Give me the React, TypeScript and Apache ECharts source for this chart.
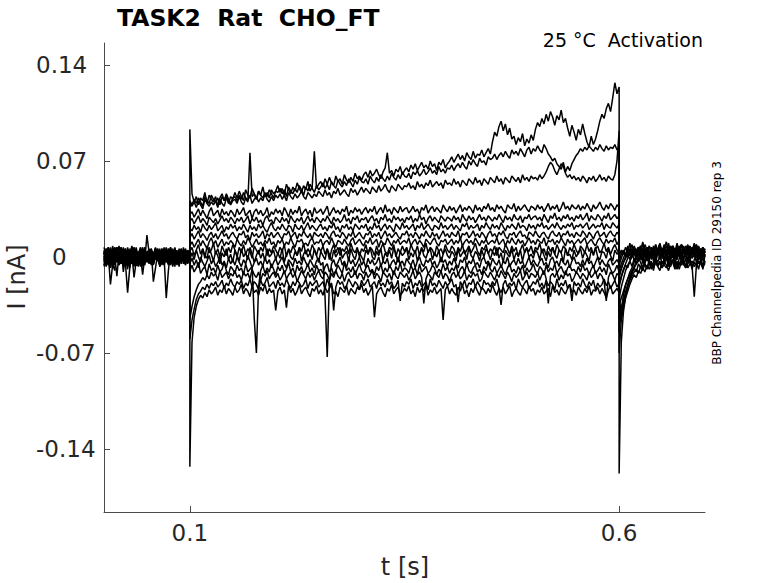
import React, { useEffect, useRef } from "react";
import * as echarts from "echarts";

// Time segments of the protocol [start, end] in s: holding, test pulse, return to holding
const SEGMENTS: [number, number][] = [
  [0, 0.1],
  [0.1, 0.6],
  [0.6, 0.7],
];

const X_TICKS = [0.1, 0.6];
const Y_TICKS = [-0.14, -0.07, 0, 0.07, 0.14];

const TITLE = "TASK2  Rat  CHO_FT";
const SUBTITLE = "25 °C  Activation";
const SIDE_NOTE = "BBP Channelpedia ID 29150 rep 3";
const X_NAME = "t [s]";
const Y_NAME = "I [nA]";

// Currents in pA, sampled every 2.5 ms in each segment
const PRE_1 = [3,-5,6,0,-7,4,2,-3,7,-1,5,-6,2,8,-3,1,-4,6,-1,-2,3,5,-4,1,7,-2,-6,3,0,4,-5,2,6,-3,1,-7,5,0,-2,4,1];
const STEP_1 = [93,
  46,40,44,38,43,41,47,39,45,42,40,44,37,43,46,41,45,39,44,42,
  47,43,48,44,41,49,45,43,50,46,42,48,45,51,44,47,43,49,46,48,
  52,47,50,45,53,49,46,51,48,54,50,47,52,49,55,48,51,77,50,53,
  55,51,57,53,58,54,52,59,55,57,53,60,56,54,58,55,61,57,59,56,
  60,62,58,63,59,61,64,60,57,62,65,76,61,63,59,64,62,66,60,63,
  65,62,67,64,68,63,66,69,65,67,64,70,66,68,63,69,67,71,65,68,
  70,73,69,72,75,71,74,70,76,73,71,77,72,75,74,78,73,76,79,75,
  84,91,88,95,99,92,97,89,94,86,
  88,82,87,84,90,81,86,83,89,85,
  93,98,95,101,97,104,99,106,102,96,103,100,107,98,101,
  94,88,96,91,85,93,89,97,90,
  84,80,88,82,86,92,
  99,104,101,108,112,106,
  116,127,119,124];
const TAIL_1 = [-158,-62,-40,-29,-22,-16,-12,-8,-5,-3,2,-4,3,0,-2,5,1,-3,4,0,6,-1,3,-4,2,5,0,-2,4,1,-3,6,2,-1,3,0,5,-2,1,4,0];

const PRE_2 = [-2,6,-3,4,-8,1,7,-4,3,0,-6,5,-1,7,2,-5,1,-7,4,0,-3,2,6,-5,3,-1,5,-4,0,7,-2,4,-6,1,3,-3,6,-1,2,-5,0];
const STEP_2 = [41,
  38,42,39,43,40,37,44,41,39,45,42,40,43,38,44,41,46,42,39,43,
  44,41,45,42,47,43,40,76,44,46,42,48,45,43,47,44,49,46,43,48,
  47,50,46,49,44,51,48,46,50,47,52,49,45,51,48,53,50,47,52,49,
  51,54,50,53,49,55,52,50,56,53,51,55,52,57,54,51,56,53,58,55,
  54,57,53,59,56,54,58,55,60,57,55,59,56,61,58,56,60,57,62,59,
  58,61,57,62,60,63,59,61,64,60,62,65,61,63,60,66,62,64,61,65,
  64,67,63,66,68,65,69,66,64,70,67,71,68,66,72,69,70,67,73,71,
  72,75,71,74,76,73,77,74,72,78,75,77,74,79,76,73,78,80,75,79,
  77,81,78,76,82,79,75,73,70,72,68,66,64,69,62,66,63,68,71,74,
  76,79,77,80,78,81,79,77,80,78,82,79,77,81,78,80,79,82,78,80];
const TAIL_2 = [-70,-46,-34,-26,-20,-15,-11,-7,-4,-1,3,-3,5,1,-2,6,0,-4,3,7,-1,2,5,-3,1,4,-2,6,0,3,-1,5,2,-3,4,1,6,-2,3,0,2];

const PRE_3 = [4,0,-6,7,1,-3,5,-2,4,0,-5,-26,-8,2,-3,5,-6,3,-1,4,1,-4,6,0,-2,5,-7,3,1,-3,6,-1,4,-5,2,0,-4,7,-2,3,-1];
const STEP_3 = [39,
  37,40,36,41,38,35,42,39,37,40,38,41,36,42,39,37,43,40,38,41,
  42,39,44,40,38,43,41,45,39,42,44,40,43,41,46,42,40,44,41,45,
  43,46,42,45,41,47,44,42,46,43,45,48,44,42,47,45,43,46,44,48,
  46,44,49,45,47,43,48,46,50,45,47,49,46,44,50,47,49,45,48,51,
  47,50,48,46,51,49,47,52,48,50,53,49,47,52,50,48,53,51,49,52,
  51,54,50,52,49,55,51,53,50,54,52,56,51,53,55,52,54,50,56,53,
  54,52,57,53,55,51,56,54,52,57,55,53,58,54,56,52,57,55,53,58,
  56,54,59,55,57,53,58,56,54,59,57,55,58,54,60,56,58,55,59,57,
  58,56,60,57,59,62,66,69,67,63,60,64,68,66,61,58,60,57,59,56,
  58,55,59,57,54,58,56,59,55,57,60,56,58,55,59,57,56,60,70,92];
const TAIL_3 = [-55,-38,-28,-21,-16,-11,-8,-4,-1,2,-2,5,1,-3,4,0,6,-1,3,7,1,-2,5,2,-1,4,0,6,3,-2,5,1,-1,4,2,7,0,3,-2,5,1];

const PRE_4 = [-6,3,7,-2,4,-5,0,8,-3,1,6,-7,0,4,-2,7,-3,1,5,-4,0,3,-6,2,5,-1,4,-3,7,0,-5,2,-2,6,1,-4,3,-1,5,-3,2];
const STEP_4 = [31,
  33,29,32,35,30,34,31,28,33,36,30,32,34,29,35,31,33,30,34,32,
  29,35,31,33,36,30,32,34,28,33,35,31,34,30,32,36,29,33,31,35,
  32,34,30,36,33,29,35,31,34,32,37,30,33,35,31,34,29,36,32,33,
  35,31,34,37,30,33,36,32,34,31,35,33,37,30,34,32,36,33,35,31,
  34,36,32,35,33,37,31,34,36,32,38,33,35,31,36,34,32,37,33,35,
  36,32,34,37,33,35,31,36,34,38,32,35,37,33,36,34,32,38,35,33,
  37,34,36,32,35,38,33,36,34,37,35,32,38,34,36,33,37,35,39,34,
  36,33,38,35,37,34,32,38,36,35,39,33,37,34,36,38,35,33,37,36,
  34,38,35,37,33,36,39,34,37,35,38,33,36,40,35,37,34,38,36,35,
  38,34,37,35,39,36,33,38,35,37,40,36,34,38,35,39,37,34,38,36];
const TAIL_4 = [-30,-22,-16,-10,-6,-3,0,3,-2,5,1,-1,6,2,4,-2,7,1,3,5,0,6,2,-1,4,8,1,3,5,0,6,2,4,-1,5,3,7,1,4,2,5];

const PRE_5 = [1,-7,3,6,-3,0,4,-5,7,-2,3,-1,-6,2,-15,-3,4,-1,-6,3,-2,5,0,-4,6,1,-3,4,-6,2,-1,7,-4,0,3,-2,5,-5,1,4,-3];
const STEP_5 = [26,
  28,24,27,30,25,28,26,23,29,27,25,28,24,27,30,26,28,25,29,27,
  24,28,26,29,25,27,30,24,28,26,29,25,27,23,28,30,26,27,24,29,
  27,25,29,26,28,24,30,27,25,28,26,29,24,27,30,26,28,25,29,27,
  25,28,26,30,27,24,29,26,28,25,27,31,26,28,24,29,27,30,25,28,
  27,29,25,28,30,26,28,24,29,27,31,26,28,25,30,27,29,26,28,25,
  29,27,30,25,28,26,31,27,29,24,28,30,26,29,27,25,30,28,26,29,
  28,26,30,27,29,25,31,28,26,30,27,29,25,28,31,27,29,26,30,28,
  26,29,27,31,28,25,30,27,29,26,31,28,27,30,25,29,28,31,27,29,
  30,27,29,26,31,28,25,30,28,32,27,29,26,30,28,31,27,29,26,30,
  28,31,27,29,32,26,30,28,27,31,29,26,30,28,32,27,29,31,28,30];
const TAIL_5 = [-22,-15,-9,-5,-1,3,0,5,2,7,-1,4,6,1,8,3,0,5,2,6,4,9,1,3,7,2,5,0,6,3,8,4,1,6,3,5,9,2,4,7,3];

const PRE_6 = [7,1,-4,0,5,-3,3,-6,1,4,2,-2,6,-4,0,3,-7,4,1,-3,16,3,-5,2,6,-2,0,4,-3,5,1,-6,3,0,-2,6,-4,2,-1,5,0];
const STEP_6 = [21,
  19,23,20,22,18,24,21,19,23,20,22,25,19,21,23,18,22,20,24,21,
  23,19,22,20,24,21,18,23,20,22,19,24,21,23,20,18,22,25,21,19,
  22,20,24,21,19,23,22,18,24,21,20,23,19,22,25,20,23,21,19,22,
  24,20,22,19,23,21,25,20,22,18,23,21,24,20,22,19,24,22,20,23,
  21,24,19,22,20,25,21,23,19,22,24,20,23,21,18,24,22,20,25,21,
  23,20,22,24,19,23,21,25,20,22,24,21,19,23,22,20,25,21,23,20,
  22,24,20,23,21,19,24,22,25,20,23,21,22,24,19,23,21,25,22,20,
  24,21,23,20,25,22,19,23,21,24,22,20,25,21,23,22,19,24,21,23,
  20,24,22,25,21,23,20,22,24,21,25,22,20,23,21,24,22,25,20,23,
  22,24,21,23,25,20,22,24,21,23,22,25,20,24,22,21,25,23,21,24];
const TAIL_6 = [-15,-9,-4,0,4,1,6,3,-1,5,8,2,4,7,1,6,3,9,2,5,0,7,4,2,8,5,1,6,3,9,4,2,7,5,1,6,8,3,5,2,6];

const PRE_7 = [-3,4,2,-20,-6,7,-1,3,0,-7,4,1,-3,6,-5,0,2,7,-2,4,-4,1,5,-3,0,6,-2,3,-6,1,4,-1,5,-4,2,0,-5,3,6,-2,1];
const STEP_7 = [14,
  17,13,16,19,14,17,15,12,16,18,14,17,13,16,19,15,17,13,16,18,
  15,13,17,16,19,14,16,12,18,15,17,14,16,19,13,17,15,18,14,16,
  18,15,13,17,16,19,14,16,18,13,17,15,19,16,14,17,13,18,16,15,
  17,14,18,16,13,17,19,15,16,14,18,16,13,17,15,19,14,16,18,15,
  13,17,16,19,14,17,15,18,13,16,19,15,17,14,16,18,15,13,17,16,
  19,15,17,14,18,16,13,17,15,19,16,14,18,15,17,13,16,19,15,17,
  14,18,16,15,19,13,17,16,18,14,16,19,15,17,14,18,16,13,17,19,
  15,17,14,18,16,19,15,13,17,16,18,14,17,19,15,16,13,18,17,15,
  19,16,14,17,18,15,13,17,19,16,15,18,14,17,16,19,15,17,14,18,
  16,15,19,17,14,18,16,13,17,19,15,16,18,14,17,19,16,15,18,16];
const TAIL_7 = [-10,-5,-1,3,0,6,2,8,4,1,6,3,9,5,2,7,4,0,6,10,3,5,1,7,4,8,2,6,3,9,5,1,7,4,2,8,5,3,6,1,4];

const PRE_8 = [0,4,-3,-8,3,6,-2,1,-5,7,-3,5,1,-2,4,-6,-6,0,3,-3,1,6,-4,2,-1,5,-7,3,0,-30,-10,4,-2,6,1,-5,3,0,-3,5,-1];
const STEP_8 = [8,
  11,7,10,13,8,12,9,6,11,14,9,12,7,10,13,8,11,9,12,10,
  7,13,10,8,12,9,14,11,7,10,13,9,11,8,12,10,14,9,11,7,
  12,10,13,8,11,9,14,10,7,12,11,13,9,10,8,12,14,9,11,10,
  13,8,11,12,9,14,10,7,12,11,9,13,10,8,12,14,9,11,13,10,
  8,12,10,14,9,11,13,7,12,10,9,14,11,8,12,10,13,9,11,12,
  10,14,8,11,13,9,12,10,7,13,11,9,12,14,10,8,12,11,13,9,
  11,13,9,12,10,14,8,11,13,10,12,9,14,11,8,12,10,13,9,11,
  12,10,14,9,11,13,8,12,10,14,11,9,13,10,12,8,11,14,10,12,
  9,13,11,10,14,8,12,11,13,9,12,10,14,11,8,13,10,12,9,11,
  13,10,12,14,9,11,13,10,8,12,14,11,9,13,10,12,11,14,9,12];
const TAIL_8 = [-6,-1,3,1,6,4,9,2,5,7,3,10,6,1,8,4,2,7,5,9,3,6,11,4,2,8,5,7,3,9,6,1,5,8,4,10,2,6,4,7,3];

const PRE_9 = [5,-2,4,1,-5,-10,7,0,3,-6,1,-3,4,0,7,-4,2,6,-7,3,0,-4,5,2,-2,6,-5,1,4,-3,0,7,-2,3,-6,2,5,-1,0,4,-3];
const STEP_9 = [4,
  7,1,5,9,2,6,-1,8,3,5,10,2,6,0,8,4,1,7,3,9,
  5,0,7,3,9,2,6,4,-1,8,5,2,7,4,10,1,6,3,8,5,
  2,7,4,9,0,6,3,8,5,1,7,4,10,2,6,3,9,5,1,7,
  4,8,2,6,-2,5,9,3,7,1,6,4,8,2,10,5,3,7,0,6,
  4,9,2,7,5,1,8,3,6,10,4,2,7,5,9,0,6,3,8,4,
  7,2,9,5,3,8,1,6,4,10,3,7,5,1,8,4,6,2,9,5,
  3,8,6,1,7,4,9,2,5,8,3,6,10,4,1,7,5,9,2,6,
  4,8,1,7,5,3,9,6,2,8,4,7,0,5,9,3,6,4,8,2,
  7,5,10,3,6,1,8,4,7,2,9,5,3,8,6,1,7,4,9,5,
  2,8,6,3,9,4,7,1,6,8,3,5,10,4,7,2,6,9,5,3];
const TAIL_9 = [-3,2,5,1,8,4,2,7,0,5,3,11,2,6,4,1,8,3,5,9,2,6,4,10,3,7,1,5,8,2,6,4,9,3,7,5,1,8,4,6,3];

const PRE_10 = [-4,3,0,-7,8,1,-3,4,-2,6,-5,2,-8,1,4,-1,0,-6,3,7,-2,4,-5,1,6,-3,2,-1,5,-4,0,3,-7,4,1,-2,6,-3,0,2,-1];
const STEP_10 = [-2,
  3,-2,5,0,-4,6,1,-1,7,2,-3,4,1,-5,3,0,6,-2,2,-4,
  5,1,-3,6,0,3,-2,7,2,-4,1,5,-1,3,-3,6,0,2,5,-2,
  3,-1,6,-4,2,5,0,-2,4,1,7,-3,2,5,0,3,-2,6,1,-4,
  4,1,-2,6,2,-3,5,0,3,7,-1,2,4,-3,6,1,-2,5,3,0,
  -3,5,2,7,0,-2,4,1,6,-3,3,0,5,-1,7,2,-4,4,1,3,
  6,-2,3,0,5,-3,2,7,1,-1,4,6,-2,3,0,5,-4,2,6,1,
  -1,4,2,-3,6,0,3,5,-2,7,1,-1,4,2,-3,5,0,6,3,-2,
  4,1,7,-1,3,-4,5,2,0,6,-2,3,1,5,-3,4,7,0,2,-1,
  5,3,-2,6,1,-3,4,0,7,2,-1,5,3,-4,6,1,2,-2,5,0,
  3,6,-1,4,1,-3,5,2,7,0,-2,4,3,-1,6,1,-3,5,2,4];
const TAIL_10 = [0,5,2,7,3,10,1,6,4,2,8,5,0,7,3,6,1,9,4,2,6,3,8,5,1,7,4,10,2,6,3,8,5,0,7,4,9,2,5,3,6];

const PRE_11 = [2,6,-4,3,0,-6,4,-3,7,-11,0,4,-3,6,-2,3,-5,1,-13,0,4,-2,5,-6,1,3,-4,6,0,-3,2,5,-1,-7,4,0,-3,5,2,-4,1];
const STEP_11 = [-5,
  -1,-6,-2,-8,0,-4,-7,-3,1,-5,-2,-7,-4,0,-6,-3,-8,-1,-5,-2,
  -6,0,-4,-7,-2,-5,1,-3,-8,-4,-1,-6,-3,-7,0,-5,-2,-8,-4,-1,
  -6,-3,0,-5,-8,-2,-4,-7,-1,-5,-3,-6,0,-4,-7,-2,-5,-8,-3,-1,
  -6,-4,-30,-73,-18,-5,-2,-7,-4,0,-6,-3,-8,-1,-5,-2,-7,-4,0,-6,
  -3,-8,-1,-5,-2,-6,-4,0,-7,-3,-5,-1,-8,-4,-2,-6,0,-5,-3,-7,
  -1,-4,-6,-2,-8,-3,0,-5,-7,-2,-4,-1,-6,-3,-8,-5,0,-4,-2,-7,
  -3,-6,-1,-5,-8,-2,-4,0,-7,-3,-5,-1,-6,-4,-8,-2,0,-5,-3,-7,
  -1,-4,-6,-2,-8,-3,-5,0,-7,-4,-2,-6,-1,-5,-3,-8,-4,0,-6,-2,
  -5,-7,-3,-1,-6,-4,-8,-2,0,-5,-3,-7,-1,-4,-6,-2,-8,-3,0,-5,
  -4,-7,-2,-6,-1,-5,-3,-8,-4,0,-6,-2,-5,-7,-3,-1,-6,-4,-2,-5];
const TAIL_11 = [-12,-8,-4,-1,2,-2,4,-3,1,5,-1,3,-5,2,0,4,-3,1,6,-2,3,-4,0,5,-1,2,-6,3,1,-2,4,0,-3,5,-1,2,-4,3,0,-9,2];

const PRE_12 = [-7,0,4,-3,6,1,-14,3,-2,4,-6,7,0,-3,4,2,-6,3,0,-4,-2,5,1,-5,3,-1,6,-3,2,0,-6,4,1,-2,5,-4,0,3,-5,2,0];
const STEP_12 = [-10,
  -6,-11,-8,-4,-12,-9,-7,-13,-5,-10,-8,-12,-6,-11,-9,-4,-10,-13,-7,-9,
  -12,-6,-10,-8,-13,-5,-11,-9,-7,-45,-70,-22,-10,-6,-12,-8,-11,-5,-9,-13,
  -7,-10,-6,-12,-9,-4,-11,-8,-13,-6,-10,-7,-12,-9,-5,-11,-8,-13,-6,-10,
  -9,-12,-7,-5,-11,-8,-13,-10,-6,-9,-12,-4,-10,-8,-11,-7,-13,-9,-5,-10,
  -12,-8,-6,-11,-9,-13,-7,-10,-5,-12,-8,-11,-6,-9,-13,-7,-10,-4,-11,-8,
  -9,-12,-6,-10,-8,-13,-5,-11,-9,-7,-12,-10,-6,-8,-13,-9,-11,-5,-10,-7,
  -12,-8,-10,-6,-13,-9,-7,-11,-5,-10,-12,-8,-6,-11,-9,-13,-7,-10,-4,-9,
  -11,-7,-12,-9,-6,-10,-13,-8,-5,-11,-9,-12,-7,-10,-6,-13,-8,-11,-9,-5,
  -10,-12,-7,-9,-13,-6,-11,-8,-10,-5,-12,-9,-7,-11,-13,-8,-6,-10,-9,-12,
  -7,-11,-5,-10,-8,-13,-9,-6,-12,-10,-7,-11,-8,-13,-5,-9,-12,-10,-6,-11];
const TAIL_12 = [-20,-14,-10,-6,-8,-3,-7,-1,-5,0,-4,-8,-2,1,-6,-3,-10,-1,-4,2,-5,-3,0,-7,-2,1,-5,-8,-1,3,-4,-6,0,-3,-9,-2,1,-5,-3,0,-4];

const PRE_13 = [3,-3,7,-4,2,4,0,-6,5,-3,1,-9,4,0,-4,6,-2,3,7,-3,0,-5,4,2,-1,5,-6,1,3,-2,6,-4,0,4,-3,1,5,-2,-6,3,1];
const STEP_13 = [-45,
  -36,-29,-24,-20,-18,-15,-17,-13,-16,-11,-14,-12,-17,-10,-15,-13,-11,-16,-12,-14,
  -10,-15,-13,-17,-11,-14,-12,-16,-9,-13,-15,-11,-17,-12,-14,-10,-16,-13,-11,-15,
  -12,-17,-14,-10,-16,-13,-11,-15,-12,-18,-14,-10,-13,-16,-11,-15,-12,-17,-13,-10,
  -14,-16,-11,-13,-17,-12,-15,-10,-14,-16,-12,-18,-13,-11,-15,-14,-10,-16,-12,-13,
  -17,-11,-15,-13,-10,-16,-12,-14,-18,-11,-13,-15,-12,-17,-10,-14,-16,-11,-13,-15,
  -12,-17,-14,-10,-16,-13,-11,-15,-34,-16,-12,-14,-17,-11,-13,-15,-10,-16,-12,-14,
  -18,-13,-11,-15,-12,-16,-14,-10,-17,-13,-15,-11,-14,-12,-18,-16,-10,-13,-15,-11,
  -14,-17,-12,-15,-10,-13,-16,-11,-14,-18,-12,-15,-13,-10,-17,-14,-11,-16,-12,-13,
  -15,-11,-17,-13,-10,-16,-34,-14,-12,-15,-11,-17,-13,-16,-10,-14,-12,-18,-15,-11,
  -13,-16,-12,-14,-17,-11,-15,-13,-10,-16,-12,-14,-18,-32,-15,-11,-13,-17,-12,-14];
const TAIL_13 = [-35,-30,-25,-20,-16,-13,-10,-8,-11,-5,-8,-3,-6,-9,-2,-7,-4,-1,-6,-3,-8,-5,0,-7,-2,-4,-9,-3,-6,-1,-5,-8,-2,-4,-7,-29,-6,-3,-5,-1,-4];

const PRE_14 = [-2,4,-6,5,-3,0,7,-2,-5,3,6,0,-4,1,-7,4,2,-3,1,6,-1,3,-5,0,5,-2,4,-6,2,1,-3,6,-1,-4,3,0,5,-3,1,-2,2];
const STEP_14 = [-60,
  -46,-38,-31,-27,-25,-22,-24,-20,-23,-19,-21,-18,-22,-20,-17,-23,-19,-21,-16,-20,
  -22,-18,-20,-17,-23,-19,-21,-16,-22,-18,-20,-24,-17,-21,-19,-15,-22,-20,-18,-23,
  -17,-21,-19,-22,-16,-20,-23,-18,-21,-17,-19,-22,-20,-16,-23,-18,-21,-19,-17,-22,
  -20,-18,-23,-16,-21,-19,-39,-22,-17,-20,-18,-23,-21,-16,-19,-22,-18,-20,-24,-17,
  -21,-19,-16,-22,-20,-18,-23,-17,-21,-19,-22,-16,-20,-18,-23,-21,-17,-32,-19,-22,
  -18,-20,-16,-23,-19,-21,-17,-22,-20,-18,-24,-16,-21,-19,-22,-17,-20,-23,-18,-21,
  -19,-16,-22,-20,-33,-18,-21,-17,-23,-19,-20,-16,-22,-18,-21,-24,-17,-20,-19,-22,
  -18,-21,-16,-23,-35,-20,-17,-22,-19,-21,-18,-24,-16,-20,-22,-19,-17,-23,-21,-18,
  -20,-16,-22,-19,-23,-17,-21,-18,-20,-24,-16,-22,-19,-21,-17,-23,-20,-32,-18,-21,
  -19,-22,-16,-20,-23,-18,-21,-17,-24,-19,-22,-20,-16,-21,-18,-23,-20,-17,-22,-19];
const TAIL_14 = [-45,-38,-32,-26,-21,-17,-14,-11,-9,-12,-7,-10,-5,-8,-4,-9,-6,-2,-7,-4,-8,-3,-6,-10,-5,-2,-7,-4,-9,-3,-6,-1,-8,-5,-3,-7,-4,-9,-2,-6,-5];

const PRE_15 = [4,-6,0,3,-2,7,-4,1,6,-3,0,-5,3,-5,7,0,-3,4,-2,-6,2,-1,5,-18,-8,3,-4,6,1,-2,4,-5,0,7,-3,2,-1,5,-4,0,3];
const STEP_15 = [-153,
  -62,-44,-36,-31,-28,-30,-26,-29,-24,-27,-25,-22,-28,-24,-26,-21,-27,-23,-25,-28,
  -22,-26,-24,-20,-27,-23,-25,-29,-21,-26,-24,-28,-22,-25,-20,-27,-23,-26,-24,-39,
  -25,-22,-27,-24,-37,-21,-26,-23,-28,-25,-20,-27,-24,-22,-26,-29,-23,-25,-21,-27,
  -24,-28,-22,-26,-23,-20,-27,-25,-29,-22,-24,-26,-21,-28,-23,-25,-27,-22,-24,-20,
  -26,-23,-28,-25,-21,-44,-27,-24,-22,-26,-29,-23,-25,-20,-27,-24,-22,-28,-26,-23,
  -25,-21,-27,-24,-29,-22,-26,-23,-25,-20,-28,-24,-26,-22,-27,-25,-23,-46,-24,-21,
  -27,-23,-26,-28,-22,-25,-20,-27,-24,-29,-23,-26,-21,-25,-28,-22,-24,-27,-23,-26,
  -20,-25,-28,-23,-26,-22,-27,-24,-21,-29,-25,-23,-26,-28,-22,-24,-27,-21,-25,-23,
  -28,-24,-26,-22,-27,-25,-23,-29,-21,-26,-24,-28,-22,-25,-27,-23,-20,-26,-24,-28,
  -22,-25,-27,-23,-26,-21,-28,-24,-25,-22,-27,-23,-26,-30,-24,-21,-27,-25,-23,-26];
const TAIL_15 = [-25,-45,-37,-30,-25,-20,-16,-13,-15,-10,-12,-8,-11,-6,-9,-5,-8,-4,-7,-10,-3,-6,-8,-4,-7,-2,-5,-9,-4,-6,-3,-8,-5,-2,-7,-4,-6,-3,-5,-8,-4];

const TRACES: number[][][] = [
  [PRE_1, STEP_1, TAIL_1],
  [PRE_2, STEP_2, TAIL_2],
  [PRE_3, STEP_3, TAIL_3],
  [PRE_4, STEP_4, TAIL_4],
  [PRE_5, STEP_5, TAIL_5],
  [PRE_6, STEP_6, TAIL_6],
  [PRE_7, STEP_7, TAIL_7],
  [PRE_8, STEP_8, TAIL_8],
  [PRE_9, STEP_9, TAIL_9],
  [PRE_10, STEP_10, TAIL_10],
  [PRE_11, STEP_11, TAIL_11],
  [PRE_12, STEP_12, TAIL_12],
  [PRE_13, STEP_13, TAIL_13],
  [PRE_14, STEP_14, TAIL_14],
  [PRE_15, STEP_15, TAIL_15],
];

const FONT = "DejaVu Sans";
const AXIS_TEXT = "#262626";
const AXIS_LINE = "#4a4a4a";

function toPoints(segments: number[][]): [number, number][] {
  const pts: [number, number][] = [];
  segments.forEach((vals, s) => {
    const [t0, t1] = SEGMENTS[s];
    const dt = (t1 - t0) / (vals.length - 1);
    vals.forEach((pA, k) => {
      pts.push([t0 + k * dt, pA / 1000]);
    });
  });
  return pts;
}

export default function App() {
  const ref = useRef<HTMLDivElement>(null);

  useEffect(() => {
    if (!ref.current) return;
    const chart = echarts.init(ref.current, undefined, { renderer: "svg" });

    const series = TRACES.map((segs, i) => ({
      type: "line",
      name: "trace " + (i + 1),
      data: toPoints(segs),
      symbol: "none",
      showSymbol: false,
      silent: true,
      lineStyle: { color: "#000000", width: 1.5 },
      z: 2,
    }));

    chart.setOption({
      animation: false,
      backgroundColor: "#ffffff",
      grid: { left: 104, right: 73, top: 43, bottom: 71, containLabel: false },
      xAxis: {
        type: "value",
        min: 0,
        max: 0.7,
        axisLine: { show: true, onZero: false, lineStyle: { color: AXIS_LINE, width: 1 } },
        axisTick: {
          show: true,
          inside: true,
          length: 6,
          customValues: X_TICKS,
          lineStyle: { color: AXIS_LINE, width: 1 },
        },
        axisLabel: {
          show: true,
          customValues: X_TICKS,
          formatter: (v: number) => String(v),
          fontFamily: FONT,
          fontSize: 23,
          color: AXIS_TEXT,
          margin: 9,
        },
        splitLine: { show: false },
      },
      yAxis: {
        type: "value",
        min: -0.186,
        max: 0.156,
        axisLine: { show: true, onZero: false, lineStyle: { color: AXIS_LINE, width: 1 } },
        axisTick: {
          show: true,
          inside: true,
          length: 6,
          customValues: Y_TICKS,
          lineStyle: { color: AXIS_LINE, width: 1 },
        },
        axisLabel: {
          show: true,
          customValues: Y_TICKS,
          align: "left",
          margin: 68,
          formatter: (v: number) =>
            Math.abs(v) < 1e-9 ? "{z|0}" : "{n|" + v.toFixed(2) + "}",
          rich: {
            n: { fontFamily: FONT, fontSize: 23, color: AXIS_TEXT },
            z: { fontFamily: FONT, fontSize: 23, color: AXIS_TEXT, padding: [0, 0, 0, 16] },
          },
          fontFamily: FONT,
          fontSize: 23,
          color: AXIS_TEXT,
        },
        splitLine: { show: false },
      },
      graphic: [
        {
          type: "text",
          x: 117,
          y: 18,
          silent: true,
          style: {
            text: TITLE,
            fontFamily: FONT,
            fontSize: 23.5,
            fontWeight: "bold",
            fill: "#000000",
            align: "left",
            verticalAlign: "middle",
          },
        },
        {
          type: "text",
          x: 703,
          y: 40,
          silent: true,
          style: {
            text: SUBTITLE,
            fontFamily: FONT,
            fontSize: 19,
            fill: "#000000",
            align: "right",
            verticalAlign: "middle",
          },
        },
        {
          type: "text",
          x: 717,
          y: 263,
          rotation: Math.PI / 2,
          silent: true,
          style: {
            text: SIDE_NOTE,
            fontFamily: FONT,
            fontSize: 12,
            fill: "#000000",
            align: "center",
            verticalAlign: "middle",
          },
        },
        {
          type: "text",
          x: 405,
          y: 567,
          silent: true,
          style: {
            text: X_NAME,
            fontFamily: FONT,
            fontSize: 24,
            fill: AXIS_TEXT,
            align: "center",
            verticalAlign: "middle",
          },
        },
        {
          type: "text",
          x: 17,
          y: 277,
          rotation: Math.PI / 2,
          silent: true,
          style: {
            text: Y_NAME,
            fontFamily: FONT,
            fontSize: 24,
            fill: AXIS_TEXT,
            align: "center",
            verticalAlign: "middle",
          },
        },
      ],
      series,
    });

    return () => {
      chart.dispose();
    };
  }, []);

  return (
    <div
      ref={ref}
      style={{ position: "fixed", left: 0, top: 0, width: 778, height: 583, background: "#fff" }}
    />
  );
}
